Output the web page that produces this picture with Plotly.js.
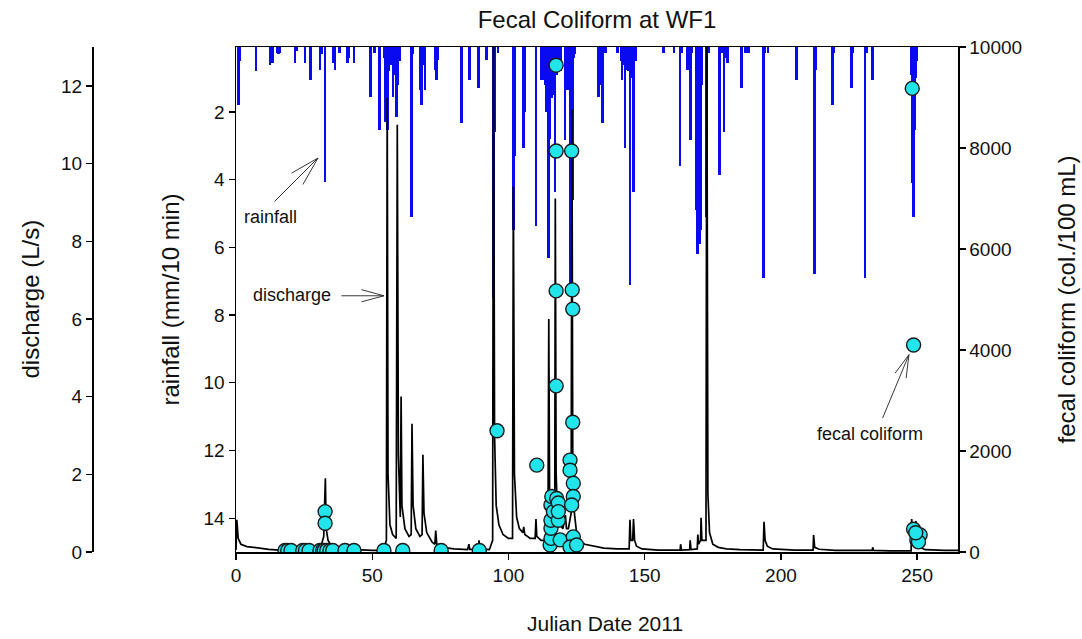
<!DOCTYPE html>
<html>
<head>
<meta charset="utf-8">
<script src="https://cdn.plot.ly/plotly-3.0.1.min.js"></script>
<style>html,body{margin:0;padding:0;background:#fff;}#chart{width:1082px;height:639px;}</style>
</head>
<body>
<div id="chart"></div>
<script>
// Discharge (L/s) time series
const dischargeDay = [0,0.3,0.8,1.8,4,8,12,16,20,23,24.5,25,27.5,28,31,32.2,32.8,33.1,33.8,35,38,45,50,54,
  55.2,55.5,55.8,56.5,57.5,58.8,59.2,59.6,60.3,60.6,60.9,62,63.5,64.3,64.6,65,66,67.5,68.3,68.6,69,70,72,73,73.3,73.7,
  76,80,85,85.5,85.8,89,89.2,89.5,93,94.2,94.5,94.9,95.5,96.5,98,100,101.5,101.8,102.2,103,104,105.3,105.6,106,108,
  109.8,110.1,110.4,112,113.5,114.5,114.8,115.1,115.6,116,116.4,117,117.2,117.5,118,119,120,120.9,121.3,122,123,123.3,
  123.6,124.2,125,126,128,131,135,140,144.3,144.6,144.9,145.6,145.9,146.3,147,149,155,163,163.2,163.5,166.5,166.7,167,
  169.3,169.5,169.8,170.5,170.7,171,172.5,172.8,173.2,173.8,175,177,180,185,193.5,193.8,194.2,195,197,205,211.8,212,
  212.4,214,220,230,233.5,233.7,234,240,247.8,248,248.4,249.2,249.5,249.9,251,253,255,260,265];
const dischargeLs = [0.05,0.83,0.35,0.2,0.14,0.1,0.07,0.05,0.04,0.05,0.12,0.06,0.15,0.06,0.1,0.4,1.9,0.6,0.3,0.15,0.08,0.05,0.04,0.04,
  0.3,11.7,2.0,0.7,0.45,0.35,11.0,2.5,0.9,4.0,1.2,0.6,0.4,0.45,3.3,1.2,0.6,0.4,0.45,2.5,1.0,0.5,0.25,0.2,0.55,0.2,
  0.12,0.08,0.06,0.2,0.07,0.07,0.3,0.08,0.06,0.3,14,3.0,1.2,0.7,0.45,0.35,0.35,9.4,2.0,0.9,0.6,0.5,0.65,0.45,0.35,
  0.35,0.85,0.4,0.3,0.3,0.6,6.0,1.5,0.9,1.2,0.8,1.0,9.1,2.0,1.0,0.7,0.6,0.95,0.6,0.6,1.0,11.4,
  2.5,1.0,0.5,0.3,0.2,0.15,0.1,0.08,0.08,0.83,0.3,0.3,0.85,0.3,0.15,0.08,0.05,0.05,0.2,0.05,0.06,0.3,0.06,
  0.08,0.45,0.2,0.3,0.88,0.3,0.3,14,1.5,0.5,0.2,0.12,0.08,0.06,0.05,0.78,0.3,0.15,0.08,0.05,0.05,0.44,
  0.12,0.07,0.04,0.04,0.04,0.12,0.04,0.03,0.03,0.85,0.4,0.35,0.8,0.3,0.12,0.06,0.05,0.04,0.04];

// Rainfall (mm / 10 min)
const rainDay = [0.85,1.2,7.3,12.5,13.0,13.5,15.0,15.5,16.0,21.7,22.1,25.3,27.4,30.8,31.5,32.7,35.7,36.3,37.9,40.8,41.4,43.3,
  49.4,50.9,52.6,54.6,55.0,55.5,56.0,57.6,58.3,59.0,59.5,60.2,64.5,65.0,67.5,68.2,69.0,69.4,73.0,73.5,74.0,82.8,85.6,89.0,92.0,
  94.5,95.0,96.2,101.8,102.4,105.5,106.0,110.1,112.2,113.0,113.4,114.0,114.7,115.2,115.8,116.3,117.1,117.8,118.5,119.0,120.8,
  121.6,122.6,123.2,123.7,124.2,133.0,133.5,134.4,135.0,135.6,140.0,141.7,142.2,142.8,143.3,144.6,145.9,146.5,156.9,160.8,
  163.0,163.5,165.7,166.7,167.2,169.0,169.5,170.1,170.5,172.8,173.3,177.4,178.2,179.1,179.6,180.5,185.6,187.0,188.2,193.6,
  194.1,195.3,205.8,212.3,212.8,218.9,219.3,226.0,226.4,230.9,231.4,233.6,248.0,248.3,248.6,249.0,249.4,
  56.6,58.8,113.7,116.8,118.0,122.2,124.0,141.3,144.0,145.3,169.8,170.9,249.8];
const rainMm = [1.8,0.5,0.79,0.6,0.4,0.56,0.26,0.3,0.26,0.56,0.2,0.56,1.06,0.76,0.3,4.06,0.56,0.76,0.26,0.56,0.4,0.56,
  1.55,0.26,2.53,0.4,2.29,2.53,0.8,1.55,0.9,2.14,1.2,0.5,5.09,0.3,1.35,1.79,0.6,1.35,0.76,1.06,0.45,2.32,1.06,1.3,0.45,
  7.5,2.6,0.26,5.5,3.3,3.07,2.0,5.38,1.06,1.06,0.6,2.0,6.3,2.8,1.6,1.5,4.35,0.9,0.6,0.8,2.83,
  1.35,7.3,2.1,4.6,0.3,1.55,1.2,2.33,0.26,0.26,0.26,1.06,0.6,3.07,0.76,7.1,4.35,0.5,0.26,0.26,
  3.61,0.26,0.76,2.83,0.26,4.9,6.2,5.9,5.5,5.09,0.26,3.86,0.26,2.58,0.4,0.56,1.3,0.26,0.26,6.9,
  0.26,0.26,1.06,6.8,0.76,1.79,0.26,1.3,0.26,6.9,0.26,1.06,0.9,4.1,5.09,2.53,1.0,
  0.6,0.5,1.2,1.0,0.5,1.1,0.4,0.5,0.8,1.0,2.2,1.2,0.5];

// Fecal coliform (col./100 mL)
const fecalDay = [18.0,19.0,20.2,24.5,25.5,26.8,30.8,31.8,32.4,32.7,32.7,33.3,34.5,35.5,40.0,43.3,54.3,61.2,75.3,89.3,
  95.8,110.4,115.3,115.6,115.6,115.6,115.6,115.9,116.5,117.5,117.5,117.5,117.5,117.7,118.3,118.3,118.3,119.0,
  122.6,122.6,123.2,123.4,123.6,123.6,123.8,123.8,123.2,123.8,122.6,125.0,
  248.2,248.7,248.7,249.9,251.1,250.5,249.5];
const fecalCol = [30,30,30,30,30,30,30,30,30,800,570,30,30,30,30,30,30,30,30,30,
  2400,1720,140,270,470,630,930,1100,800,9640,7940,5170,3290,1060,970,630,800,240,
  1820,1620,7940,5190,4810,2570,1360,1100,930,300,100,140,
  9180,4100,450,240,340,200,380];

// Tick labels
const xTicks = [0, 50, 100, 150, 200, 250];
const rainTicks = [2, 4, 6, 8, 10, 12, 14];
const dischargeTicks = [0, 2, 4, 6, 8, 10, 12];
const fecalTicks = [0, 2000, 4000, 6000, 8000, 10000];

const FONT = 'Liberation Sans, Arial, sans-serif';
const L = 92, R = 124, T = 47, B = 87, W = 1082, H = 639;
const pw = W - L - R, ph = H - T - B;
const px2paperX = p => (p - L) / pw;
const px2paperY = p => (H - B - p) / ph;

const traces = [
  {type: 'bar', x: rainDay, y: rainMm, base: 0, width: 1.0, xaxis: 'x', yaxis: 'y',
   marker: {color: '#0A0AF0', line: {width: 0}}, name: 'rainfall'},
  {type: 'scatter', mode: 'lines', x: dischargeDay, y: dischargeLs, xaxis: 'x', yaxis: 'y2',
   line: {color: '#000000', width: 1.7}, name: 'discharge'},
  {type: 'scatter', mode: 'markers', x: fecalDay, y: fecalCol, xaxis: 'x', yaxis: 'y3',
   marker: {color: '#22E5EC', size: 14, line: {color: '#1a1a1a', width: 1.4}}, name: 'fecal coliform'}
];

const axisCommon = {showline: true, linecolor: '#000', linewidth: 1.5, ticks: 'outside', ticklen: 6,
  tickwidth: 1.3, tickcolor: '#000', showgrid: false, zeroline: false, tickmode: 'array',
  tickfont: {family: FONT, size: 19, color: '#111'}};

const txt = (s) => ({family: FONT, size: s, color: '#111'});
const arrowLine = (x, y, ax, ay) => ({xref: 'x', yref: 'y', x: x, y: y, ax: ax, ay: ay, text: '',
  showarrow: true, arrowhead: 0, arrowwidth: 0.9, arrowcolor: '#222'});
const sideTitle = (px, text) => ({xref: 'paper', yref: 'paper', x: px2paperX(px), y: 0.5,
  xanchor: 'center', yanchor: 'middle', text: text, textangle: -90, showarrow: false, font: txt(24)});

const layout = {
  width: W, height: H,
  margin: {l: L, r: R, t: T, b: B, pad: 0},
  paper_bgcolor: '#fff', plot_bgcolor: '#fff',
  showlegend: false,
  bargap: 0,
  title: {text: 'Fecal Coliform at WF1', xref: 'container', x: 597 / W, yref: 'container', y: 1 - 20 / H,
    yanchor: 'middle', xanchor: 'center', font: txt(24)},
  xaxis: Object.assign({}, axisCommon, {domain: [px2paperX(236), 1], range: [0, 265],
    tickvals: xTicks, ticktext: xTicks.map(String), mirror: true}),
  yaxis: Object.assign({}, axisCommon, {range: [15, 0.08], anchor: 'x', side: 'left',
    tickvals: rainTicks, ticktext: rainTicks.map(String)}),
  yaxis2: Object.assign({}, axisCommon, {range: [0, 13], anchor: 'free', position: 0, side: 'left',
    overlaying: 'y', tickvals: dischargeTicks, ticktext: dischargeTicks.map(String)}),
  yaxis3: Object.assign({}, axisCommon, {range: [0, 10000], anchor: 'x', side: 'right',
    overlaying: 'y', tickvals: fecalTicks, ticktext: fecalTicks.map(String)}),
  annotations: [
    sideTitle(30, 'discharge (L/s)'),
    sideTitle(170, 'rainfall (mm/10 min)'),
    sideTitle(1066, 'fecal coliform (col./100 mL)'),
    {xref: 'paper', yref: 'paper', x: px2paperX(605), y: px2paperY(623), xanchor: 'center', yanchor: 'middle',
     text: 'Julian Date 2011', showarrow: false, font: txt(21)},
    // callout labels
    {xref: 'x', yref: 'y', x: 12.5, y: 5.1, xanchor: 'center', text: 'rainfall', showarrow: false, font: txt(18)},
    {xref: 'x', yref: 'y', x: 20.6, y: 7.4, xanchor: 'center', text: 'discharge', showarrow: false, font: txt(18)},
    {xref: 'x', yref: 'y', x: 232.7, y: 11.5, xanchor: 'center', text: 'fecal coliform', showarrow: false, font: txt(18)},
    // rainfall arrow
    arrowLine(30.1, 3.36, -45, 45), arrowLine(30.1, 3.36, -16, 28), arrowLine(30.1, 3.36, -28, 16),
    // discharge arrow
    arrowLine(54.3, 7.43, -44, 0), arrowLine(54.3, 7.43, -24, -6.5), arrowLine(54.3, 7.43, -24, 6.5),
    // fecal coliform arrow
    arrowLine(247.0, 9.17, -27, 65), arrowLine(247.0, 9.17, -3, 25), arrowLine(247.0, 9.17, -15, 20)
  ]
};

Plotly.newPlot('chart', traces, layout, {displayModeBar: false, staticPlot: true});
</script>
</body>
</html>
